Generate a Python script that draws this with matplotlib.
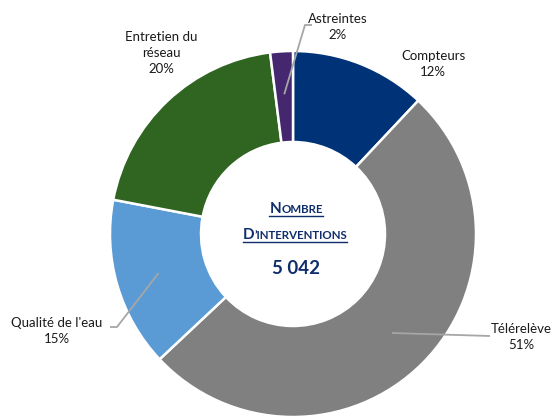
import matplotlib
matplotlib.use("Agg")
import matplotlib.pyplot as plt
import numpy as np

categories = ["Compteurs", "Télérelève", "Qualité de l'eau", "Entretien du\nréseau", "Astreintes"]
values = [12, 51, 15, 20, 2]
colors = ["#003278", "#808080", "#5B9BD5", "#2F6421", "#44276E"]
total_label = "5 042"

W, H = 559, 416
fig = plt.figure(figsize=(W / 100, H / 100), dpi=100)
ax = fig.add_axes([0, 0, 1, 1])

cx, cy = 293, H - 234
R = 183
wedges, _ = ax.pie(values, colors=colors, startangle=90, counterclock=False,
                   center=(cx, cy), radius=R,
                   wedgeprops=dict(width=91, edgecolor="white", linewidth=1.8))
ax.set_xlim(0, W)
ax.set_ylim(0, H)
ax.set_aspect("equal")
ax.axis("off")

FONT = "Lato"
TXT = "#1a1a1a"
lc = "#A6A6A6"

# label positions (pixel layout, y from top) and leader elbows
label_pos = {
    0: (433, 64, None),
    1: (521, 337, [(490, 336)]),
    2: (57, 331, [(117, 327), (110, 327)]),
    3: (161, 53, None),
    4: (338, 27, [(305, 25), (312, 25)]),
}
for i, w in enumerate(wedges):
    x, y, elbow = label_pos[i]
    ax.text(x, H - y, f"{categories[i]}\n{values[i]}%", ha="center", va="center",
            fontsize=9.5, family=FONT, color=TXT, linespacing=1.4)
    if elbow:
        mid = np.deg2rad((w.theta1 + w.theta2) / 2)
        r0 = 140
        pts = [(cx + r0 * np.cos(mid), cy + r0 * np.sin(mid))] + [(px, H - py) for px, py in elbow]
        xs, ys = zip(*pts)
        ax.plot(xs, ys, color=lc, lw=1.3, solid_capstyle="butt", zorder=5)

navy = "#0E2D6B"
fig.canvas.draw()
renderer = fig.canvas.get_renderer()


def smallcaps(pieces, xc, ybase):
    texts = []
    for s, size in pieces:
        t = ax.text(0, H - ybase, s, fontsize=size, family=FONT, weight="bold",
                    color=navy, ha="left", va="baseline")
        texts.append(t)
    widths = [t.get_window_extent(renderer).width for t in texts]
    total = sum(widths)
    x = xc - total / 2
    for t, wd in zip(texts, widths):
        t.set_x(x)
        x += wd
    ax.plot([xc - total / 2, xc + total / 2], [H - ybase - 2.5] * 2, color=navy, lw=1.0)


smallcaps([("N", 11), ("OMBRE", 8.3)], 296, 213)
smallcaps([("D", 11), ("’INTERVENTIONS", 8.3)], 295, 239)
ax.text(296, H - 269, total_label, fontsize=13.5, family=FONT, weight="bold",
        color=navy, ha="center", va="center")

ax.set_xlim(0, W)
ax.set_ylim(0, H)

fig.savefig("out.png", dpi=100)
